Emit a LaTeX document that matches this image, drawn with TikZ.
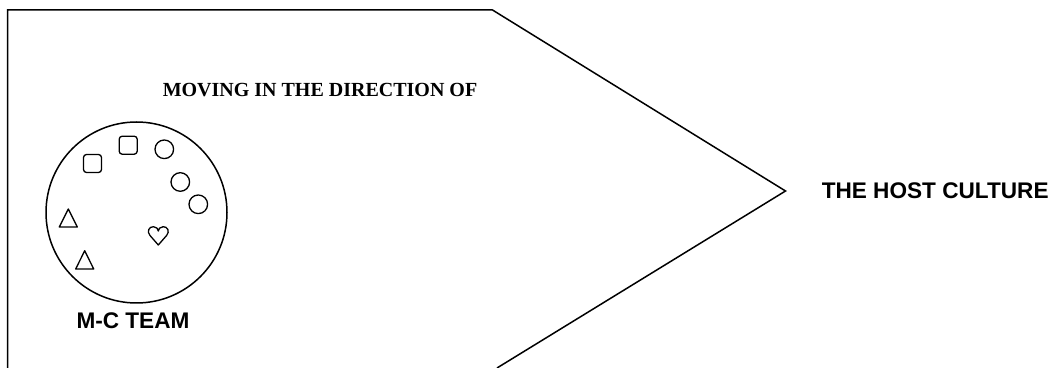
\documentclass[tikz,border=0pt]{standalone}
\usepackage{fontspec}
\setmainfont{Liberation Serif}
\setsansfont{Liberation Sans}
\usetikzlibrary{positioning, shapes.geometric}

\begin{document}
\begin{tikzpicture}[x=0.5pt, y=-0.5pt, line width=0.75pt, sanslabel/.style={font=\sffamily\bfseries\fontsize{11.3}{13}\selectfont, inner sep=0pt}, member/.style={draw, line width=0.65pt, line join=round}]
\useasboundingbox (0,0) rectangle (1050,368);
% the arrow shape, open at the bottom
\coordinate (tip) at (785.5,191);
\draw (7.5,368) -- (7.5,10) -- (492.5,10) -- (tip) -- (497,368);
\node[font=\bfseries\fontsize{10}{12}\selectfont, inner sep=0pt] (moving) at (320,90) {MOVING IN THE DIRECTION OF};
\node[sanslabel, anchor=west] (host) at (821,191) {THE HOST CULTURE};
% the team and its members
\node[draw, circle, minimum size=90.5pt, inner sep=0pt] (team) at (136.5,212.5) {};
\node[sanslabel] (teamlabel) at (133,321) {M-C TEAM};
\draw[member, rounded corners=1.5pt] (83.5,154.5) rectangle (101.5,172.5);
\draw[member, rounded corners=1.5pt] (119.2,136.2) rectangle (137.2,154.2);
\draw[member] (164.3,149.3) circle (9.3);
\draw[member] (180.3,182) circle (9.3);
\draw[member] (198.3,204.3) circle (9.3);
\draw[member] (68.3,209) -- (77.3,227) -- (59.3,227) -- cycle;
\draw[member] (84.7,250.7) -- (93.7,269) -- (75.7,269) -- cycle;
\draw[member] (158.3,245) -- (150,235.5) .. controls (146.5,231.5) and (149,226.5) .. (153.5,226.7) .. controls (156.5,226.9) and (158.3,229) .. (158.3,231) .. controls (158.3,229) and (160.1,226.9) .. (163.1,226.7) .. controls (167.6,226.5) and (170.1,231.5) .. (166.6,235.5) -- cycle;
\end{tikzpicture}
\end{document}
